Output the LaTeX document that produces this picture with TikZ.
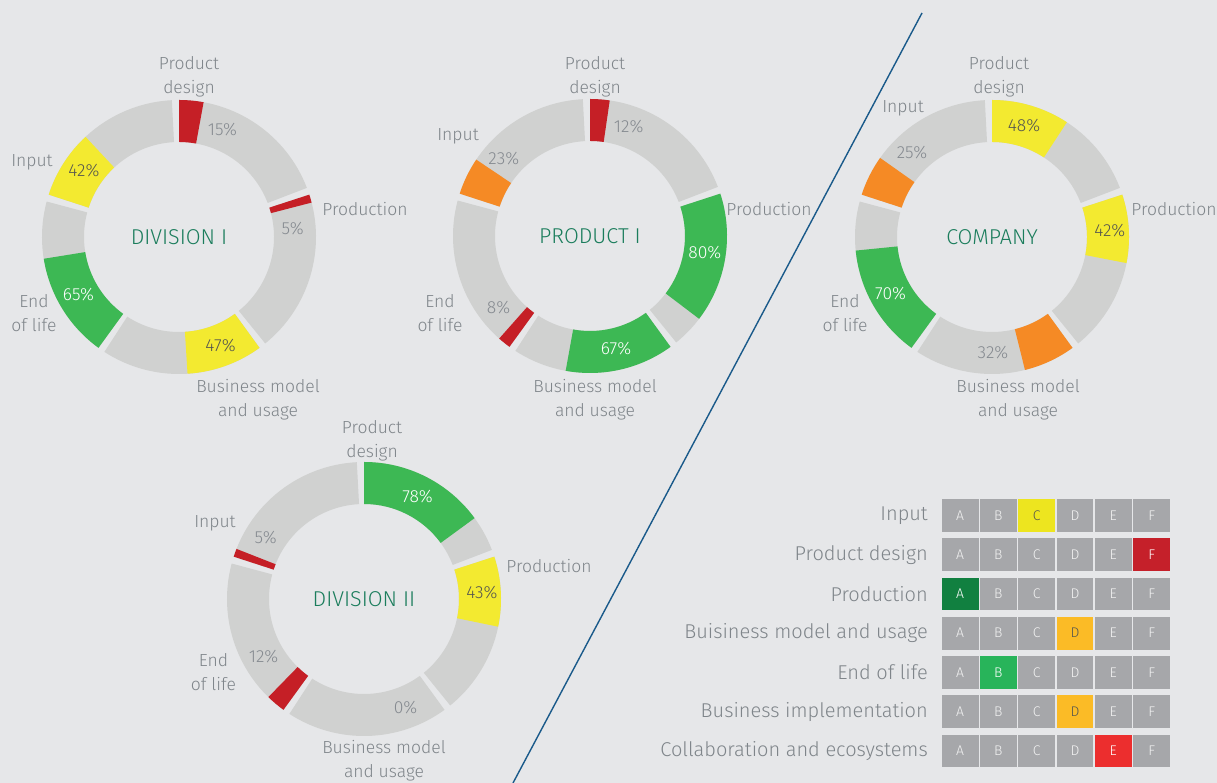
\documentclass[tikz,border=0pt]{standalone}
\usepackage{fontspec}
\setmainfont{Fira Sans}[UprightFont = * Light]
\definecolor{bg}{HTML}{E6E7E9}
\definecolor{segGrey}{HTML}{D0D1D0}
\definecolor{cRed}{HTML}{C51F26}
\definecolor{cYel}{HTML}{F3EA30}
\definecolor{cGreen}{HTML}{3DB854}
\definecolor{cOrange}{HTML}{F58A25}
\definecolor{lblGrey}{HTML}{7F858A}
\definecolor{pctGrey}{HTML}{858A90}
\definecolor{txtDark}{HTML}{55564F}
\definecolor{teal}{HTML}{1B7D5C}
\definecolor{lineBlue}{HTML}{1A5A8A}
\definecolor{cellGrey}{HTML}{A6A7AA}
\definecolor{tYel}{HTML}{EDE51F}
\definecolor{tRed}{HTML}{C5202A}
\definecolor{tDkGreen}{HTML}{118040}
\definecolor{tAmber}{HTML}{FBBB26}
\definecolor{tGreen}{HTML}{28B45A}
\definecolor{tBrRed}{HTML}{EC2E2E}
\definecolor{cellTxt}{HTML}{F2F2F2}
\def\Ro{137pt}
\def\Ri{95pt}
\newcommand\ringseg[4]{%
  \pgfmathsetmacro\sa{90-72*#2}%
  \pgfmathsetmacro\ea{\sa-69}%
  \pgfmathsetmacro\ca{\sa-0.69*#3}%
  \fill[segGrey, shift={(#1)}] (\sa:\Ro) arc[start angle=\sa, end angle=\ea, radius=\Ro] -- (\ea:\Ri) arc[start angle=\ea, end angle=\sa, radius=\Ri] -- cycle;
  \ifdim #3pt>0pt
  \fill[#4, shift={(#1)}] (\sa:\Ro) arc[start angle=\sa, end angle=\ca, radius=\Ro] -- (\ca:\Ri) arc[start angle=\ca, end angle=\sa, radius=\Ri] -- cycle;
  \fi
}
\tikzset{
  lbl/.style={text=lblGrey, font=\fontsize{17.5}{24}\selectfont, align=center, inner sep=0pt},
  pct/.style={text=pctGrey, font=\fontsize{17.5}{20}\selectfont, inner sep=0pt},
  ctr/.style={text=teal, font=\fontsize{21.5}{24}\selectfont, inner sep=0pt},
  rowlbl/.style={text=lblGrey, font=\fontsize{20}{24}\selectfont, anchor=east, inner sep=0pt},
  cell/.style={minimum width=36.8pt, minimum height=32.7pt, inner sep=0pt, font=\fontsize{14}{16}\selectfont}
}
\begin{document}
\begin{tikzpicture}[x=1pt,y=1pt]
\useasboundingbox (0,0) rectangle (1217,783);
\fill[bg] (0,0) rectangle (1217,783);

% diagonal divider
\coordinate (lt) at (922,770);
\coordinate (lb) at (513,0);
\draw[lineBlue, line width=1.4pt] (lt) -- (lb);

% centres
\coordinate (d1) at (179,546);
\coordinate (p1) at (590,547);
\coordinate (co) at (992,546);
\coordinate (d2) at (364,184);

% ---- DIVISION I ----
\ringseg{d1}{0}{15}{cRed}
\ringseg{d1}{1}{5}{cRed}
\ringseg{d1}{2}{47}{cYel}
\ringseg{d1}{3}{65}{cGreen}
\ringseg{d1}{4}{42}{cYel}
\node[ctr] (d1c) at (d1) {DIVISION I};
\path (d1) ++(68:116pt) node[pct] (d1a) {15\%};
\path (d1) ++(4:114pt) node[pct] (d1b) {5\%};
\path (d1) ++(-69:116pt) node[pct, text=txtDark] (d1d) {47\%};
\path (d1) ++(-150:116pt) node[pct, text=white] (d1e) {65\%};
\path (d1) ++(145:116pt) node[pct, text=txtDark] (d1f) {42\%};
\path (d1) ++(10,160) node[lbl] (d1l1) {Product\\design};
\path (d1) ++(-147,75) node[lbl] (d1l2) {Input};
\path (d1) ++(186,28) node[lbl] (d1l3) {Production};
\path (d1) ++(-145,-76) node[lbl] (d1l4) {End\\of life};
\path (d1) ++(79,-163) node[lbl] (d1l5) {Business model\\and usage};

% ---- PRODUCT I ----
\ringseg{p1}{0}{12}{cRed}
\ringseg{p1}{1}{80}{cGreen}
\ringseg{p1}{2}{67}{cGreen}
\ringseg{p1}{3}{8}{cRed}
\ringseg{p1}{4}{23}{cOrange}
\node[ctr] (p1c) at (p1) {PRODUCT I};
\path (p1) ++(70.5:116pt) node[pct] (p1a) {12\%};
\path (p1) ++(-8:116pt) node[pct, text=white] (p1b) {80\%};
\path (p1) ++(-77:116pt) node[pct, text=white] (p1d) {67\%};
\path (p1) ++(-142:116pt) node[pct] (p1e) {8\%};
\path (p1) ++(138:116pt) node[pct] (p1f) {23\%};
\path (p1) ++(5,159) node[lbl] (p1l1) {Product\\design};
\path (p1) ++(-132,100) node[lbl] (p1l2) {Input};
\path (p1) ++(179,27) node[lbl] (p1l3) {Production};
\path (p1) ++(-150,-77) node[lbl] (p1l4) {End\\of life};
\path (p1) ++(5,-164) node[lbl] (p1l5) {Business model\\and usage};

% ---- COMPANY ----
\ringseg{co}{0}{48}{cYel}
\ringseg{co}{1}{42}{cYel}
\ringseg{co}{2}{32}{cOrange}
\ringseg{co}{3}{70}{cGreen}
\ringseg{co}{4}{25}{cOrange}
\node[ctr] (coc) at (co) {COMPANY};
\path (co) ++(74:116pt) node[pct, text=txtDark] (coa) {48\%};
\path (co) ++(3:118pt) node[pct, text=txtDark] (cob) {42\%};
\path (co) ++(-89.5:116pt) node[pct] (cod) {32\%};
\path (co) ++(-151:116pt) node[pct, text=white] (coe) {70\%};
\path (co) ++(133.6:116pt) node[pct] (cof) {25\%};
\path (co) ++(7,160) node[lbl] (col1) {Product\\design};
\path (co) ++(-89,129) node[lbl] (col2) {Input};
\path (co) ++(182,28) node[lbl] (col3) {Production};
\path (co) ++(-147,-76) node[lbl] (col4) {End\\of life};
\path (co) ++(26,-163) node[lbl] (col5) {Business model\\and usage};

% ---- DIVISION II ----
\ringseg{d2}{0}{78}{cGreen}
\ringseg{d2}{1}{43}{cYel}
\ringseg{d2}{2}{0}{cRed}
\ringseg{d2}{3}{12}{cRed}
\ringseg{d2}{4}{5}{cRed}
\node[ctr] (d2c) at (d2) {DIVISION II};
\path (d2) ++(62.5:116pt) node[pct, text=white] (d2a) {78\%};
\path (d2) ++(3:118pt) node[pct, text=txtDark] (d2b) {43\%};
\path (d2) ++(-69:116pt) node[pct] (d2d) {0\%};
\path (d2) ++(-150:116pt) node[pct] (d2e) {12\%};
\path (d2) ++(148:116pt) node[pct] (d2f) {5\%};
\path (d2) ++(8,158) node[lbl] (d2l1) {Product\\design};
\path (d2) ++(-149,76) node[lbl] (d2l2) {Input};
\path (d2) ++(185,33) node[lbl] (d2l3) {Production};
\path (d2) ++(-150.5,-73) node[lbl] (d2l4) {End\\of life};
\path (d2) ++(20,-162) node[lbl] (d2l5) {Business model\\and usage};

% ---- rating table ----
\foreach \r/\lab/\hc/\hcol/\htxt in {
  0/Input/2/tYel/txtDark,
  1/Product design/5/tRed/white,
  2/Production/0/tDkGreen/white,
  3/Buisiness model and usage/3/tAmber/txtDark,
  4/End of life/1/tGreen/white,
  5/Business implementation/3/tAmber/txtDark,
  6/Collaboration and ecosystems/4/tBrRed/white}{
  \pgfmathsetmacro\yy{267.7-39.3*\r}
  \node[rowlbl] (rl\r) at (928,\yy) {\lab};
  \foreach \c/\L in {0/A,1/B,2/C,3/D,4/E,5/F}{
    \ifnum\c=\hc\relax
      \def\fc{\hcol}\def\tc{\htxt}%
    \else
      \def\fc{cellGrey}\def\tc{cellTxt}%
    \fi
    \pgfmathsetmacro\xx{960.1+38.3*\c}
    \node[cell, fill=\fc, text=\tc] (cell\r\c) at (\xx,\yy) {\L};
  }
}
\end{tikzpicture}
\end{document}
